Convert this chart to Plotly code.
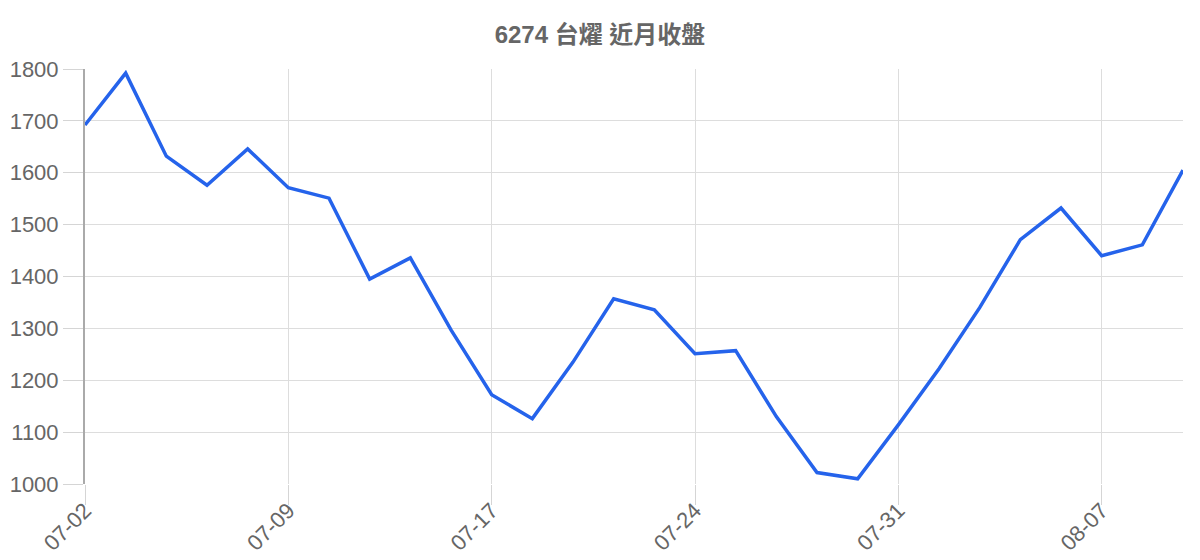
import plotly.graph_objects as go

dates = [
    "07-02", "07-03", "07-04", "07-07", "07-08", "07-09", "07-10", "07-11",
    "07-14", "07-16", "07-17", "07-18", "07-21", "07-22", "07-23", "07-24",
    "07-25", "07-28", "07-29", "07-30", "07-31", "08-01", "08-04", "08-05",
    "08-06", "08-07", "08-08", "08-11",
]
close = [
    1692, 1792, 1632, 1576, 1646, 1571, 1551, 1395, 1436, 1297, 1172, 1126,
    1235, 1357, 1336, 1251, 1257, 1130, 1022, 1010, 1114, 1222, 1340, 1471,
    1532, 1440, 1461, 1605,
]
tick_labels = dates[::5]

grid = "#dddddd"
text_col = "#666666"

fig = go.Figure()
fig.add_trace(go.Scatter(
    x=dates, y=close, mode="lines",
    line=dict(color="#2563eb", width=3.5),
))

# page body has an 8px margin, so the figure is offset by 8px
fig.update_layout(
    width=1184, height=552,
    margin=dict(l=77, r=9, t=61, b=76),
    paper_bgcolor="white", plot_bgcolor="white",
    showlegend=False,
    font=dict(family="Liberation Sans, Arial, sans-serif", color=text_col),
    title=dict(
        text="<b>6274 台燿 近月收盤</b>",
        x=0.5, xanchor="center", y=1 - 27 / 552, yanchor="middle",
        font=dict(size=24, color=text_col,
                  family="Liberation Sans, Noto Sans CJK TC, sans-serif"),
    ),
)
fig.update_xaxes(
    type="category",
    tickmode="array", tickvals=tick_labels, ticktext=tick_labels,
    tickangle=-45, ticklabelstandoff=-16,
    range=[0, len(dates) - 1],
    showgrid=True, gridcolor=grid, gridwidth=1,
    ticks="outside", ticklen=20, tickcolor="#d5d5d5", tickwidth=1,
    showline=False, zeroline=False, automargin=False,
    tickfont=dict(size=22, color=text_col),
)
fig.update_yaxes(
    range=[1000, 1800], dtick=100,
    showgrid=True, gridcolor=grid, gridwidth=1,
    ticks="outside", ticklen=20, tickcolor="#d5d5d5", tickwidth=1,
    showline=True, linecolor="#aaaaaa", linewidth=2,
    zeroline=False, automargin=False,
    tickfont=dict(size=22, color=text_col),
)

fig.write_html("out.html")
